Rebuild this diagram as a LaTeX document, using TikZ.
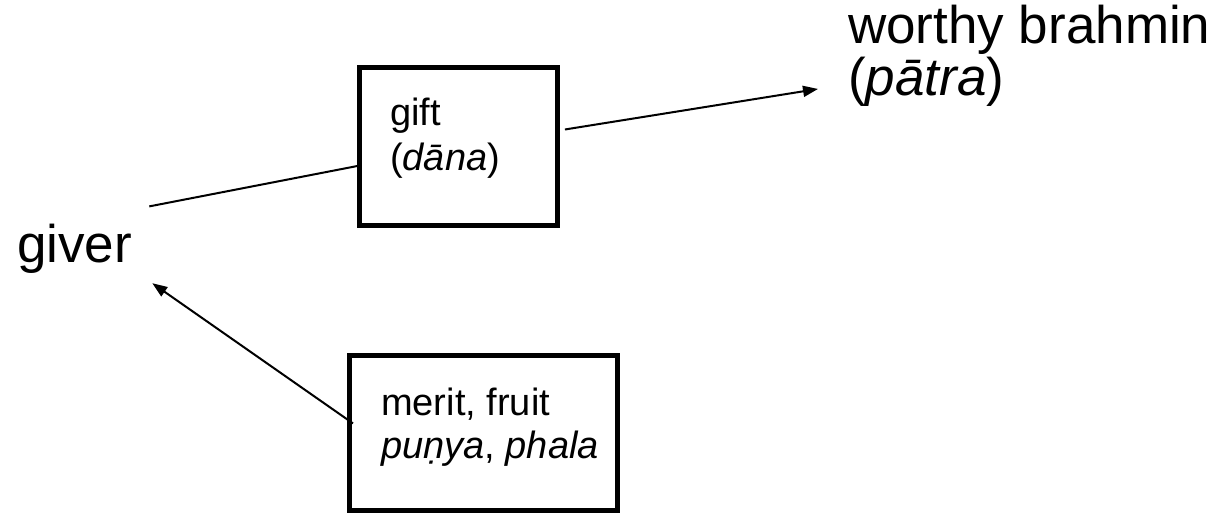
\documentclass[tikz,border=0pt]{standalone}
\usepackage{fontspec}
\setmainfont{Liberation Sans}
\usetikzlibrary{arrows.meta,calc}
\begin{document}
\begin{tikzpicture}[x=1pt,y=-1pt,
  bigtext/.style={font=\fontsize{53pt}{52pt}\selectfont},
  smalltext/.style={font=\fontsize{38pt}{45pt}\selectfont, inner sep=0pt, anchor=base west},
  frame/.style={draw, line width=5pt, fill=white, inner sep=0pt},
  conn/.style={line width=2pt},
  tip/.style={conn, -{Triangle[length=15pt,width=11pt]}}]
\useasboundingbox (0,0) rectangle (1220,513);

% the three parties
\node[bigtext, inner xsep=17pt, inner ysep=17pt, anchor=base west] (giver) at (0,262) {giver};
\node[bigtext, align=left, inner xsep=30pt, inner ysep=0pt, anchor=west] (worthy) at (818,55.5)
  {worthy brahmin\\(\textit{pātra})};

% boxes
\node[frame, minimum width=198pt, minimum height=158pt] (gift) at (458.5,146.5) {};
\node[frame, minimum width=268pt, minimum height=155pt] (merit) at (483.5,433) {};

\node[smalltext] (giftA) at (390,126) {gift};
\node[smalltext] (giftB) at (390,171) {(\textit{dāna})};
\node[smalltext] (meritA) at (381,415) {merit, fruit};
\node[smalltext] (meritB) at (381,458) {\textit{puṇya}, \textit{phala}};

% connectors
\coordinate (giverin) at ($(giver.south east)+(3,-7)$);
\coordinate (meritout) at ($(merit.north west)!0.44!(merit.south west)+(6,0)$);
\draw[conn] (giver.north east) -- (gift);
\draw[tip, shorten <=5pt] (gift) -- (worthy);
\draw[tip] (meritout) -- (giverin);
\end{tikzpicture}
\end{document}
